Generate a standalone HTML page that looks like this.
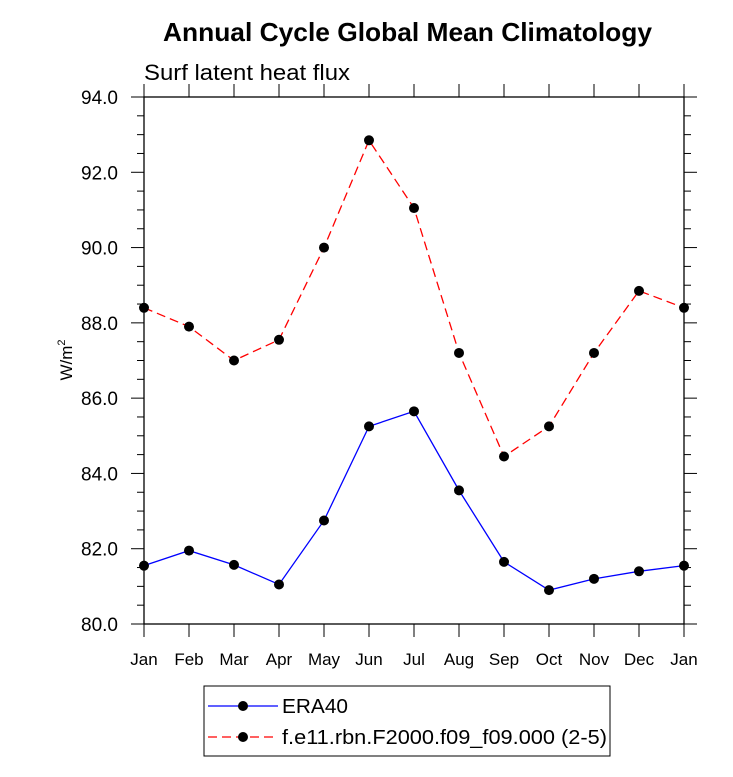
<!DOCTYPE html>
<html><head><meta charset="utf-8"><style>body{margin:0;background:#fff}svg{display:block;font-family:"Liberation Sans",Arial,sans-serif}</style></head>
<body>
<svg id="chart" width="733" height="777" viewBox="0 0 733 777" xmlns="http://www.w3.org/2000/svg">
<text x="163" y="41" font-size="26" font-weight="bold" textLength="489" lengthAdjust="spacingAndGlyphs">Annual Cycle Global Mean Climatology</text>
<text x="144" y="80" font-size="22" textLength="206" lengthAdjust="spacingAndGlyphs">Surf latent heat flux</text>
<text transform="translate(72,360) rotate(-90)" text-anchor="middle" font-size="17">W/m<tspan dy="-7" font-size="11">2</tspan></text>
<g id="axes"></g>
<g id="series"></g>
<g>
<rect x="204" y="686" width="406" height="70" fill="none" stroke="#000" stroke-width="1"/>
<g>
<line x1="208" y1="706" x2="278" y2="706" stroke="#00f" stroke-width="1.3"/><circle cx="243" cy="706" r="5" fill="#000"/>
<text x="282" y="713" font-size="20" textLength="66" lengthAdjust="spacingAndGlyphs">ERA40</text></g>
<g>
<line x1="208" y1="737" x2="278" y2="737" stroke="#f00" stroke-width="1.3" stroke-dasharray="9,5"/><circle cx="243" cy="737" r="5" fill="#000"/>
<text x="282" y="744" font-size="20" textLength="325" lengthAdjust="spacingAndGlyphs">f.e11.rbn.F2000.f09_f09.000 (2-5)</text></g>
</g>
</svg>
<script>
const months=["Jan","Feb","Mar","Apr","May","Jun","Jul","Aug","Sep","Oct","Nov","Dec","Jan"];
const era40=[81.55,81.95,81.57,81.05,82.75,85.25,85.65,83.55,81.65,80.9,81.2,81.4,81.55];
const model=[88.4,87.9,87.0,87.55,90.0,92.85,91.05,87.2,84.45,85.25,87.2,88.85,88.4];
const yTicks=[80,82,84,86,88,90,92,94];
const NS="http://www.w3.org/2000/svg";
const X0=144,X1=684,Y0=624,Y1=97,YMIN=80,YMAX=94;
const xs=i=>X0+(X1-X0)*i/(months.length-1);
const ys=v=>Y0-(v-YMIN)/(YMAX-YMIN)*(Y0-Y1);
function mk(t,a,p){const e=document.createElementNS(NS,t);for(const k in a)e.setAttribute(k,a[k]);p.appendChild(e);return e;}
const ax=document.getElementById('axes');
const frame=mk('rect',{x:X0,y:Y1,width:X1-X0,height:Y0-Y1,fill:'none',stroke:'#000','stroke-width':1.3},ax);


for(let v=YMIN;v<=YMAX+1e-9;v+=0.5){const y=ys(v);const major=Math.abs(v/2-Math.round(v/2))<1e-6;const L=major?13:7;
mk('line',{x1:X0-L,y1:y,x2:X0,y2:y,stroke:'#000','stroke-width':1},ax);
mk('line',{x1:X1,y1:y,x2:X1+L,y2:y,stroke:'#000','stroke-width':1},ax);}
yTicks.forEach(v=>{const t=mk('text',{x:118,y:ys(v)+7,'text-anchor':'end','font-size':19},ax);t.textContent=v.toFixed(1);

});
months.forEach((m,i)=>{const x=xs(i);
mk('line',{x1:x,y1:Y0,x2:x,y2:Y0+13,stroke:'#000','stroke-width':1},ax);
mk('line',{x1:x,y1:Y1-13,x2:x,y2:Y1,stroke:'#000','stroke-width':1},ax);
const t=mk('text',{x:x,y:Y0+41,'text-anchor':'middle','font-size':17},ax);t.textContent=m;

});
const sg=document.getElementById('series');
function draw(vals,col,dash,name){
const pl=mk('polyline',{points:vals.map((v,i)=>xs(i)+','+ys(v)).join(' '),fill:'none',stroke:col,'stroke-width':1.3,'stroke-dasharray':dash},sg);


vals.forEach((v,i)=>{const c=mk('circle',{cx:xs(i),cy:ys(v),r:5,fill:'#000'},sg);

});}
draw(model,'#f00','9,5','model');
draw(era40,'#00f','none','era40');
</script>
</body></html>
